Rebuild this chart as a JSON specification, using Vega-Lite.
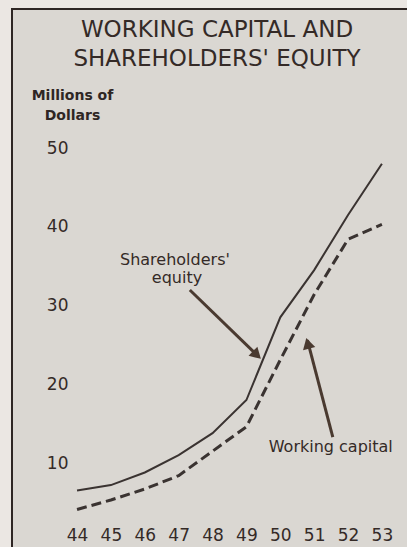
{
  "$schema": "https://vega.github.io/schema/vega-lite/v6.json",
  "width": 396,
  "height": 539,
  "autosize": {"type": "none"},
  "padding": {"left": 12, "top": 9, "right": 0, "bottom": 0},
  "background": "#ebe7e3",
  "config": {
    "view": {"fill": "#dad7d2", "stroke": "#2e2624", "strokeWidth": 2},
    "font": "DejaVu Sans"
  },
  "title": {
    "text": ["WORKING CAPITAL AND", "SHAREHOLDERS' EQUITY"],
    "fontSize": 23,
    "fontWeight": "normal",
    "color": "#342a27",
    "anchor": "middle",
    "frame": "group",
    "baseline": "top",
    "offset": -62,
    "lineHeight": 29.5,
    "dx": 7
  },
  "datasets": {
    "series": [
      {"year": 44, "series": "Shareholders' equity", "value": 6.5},
      {"year": 45, "series": "Shareholders' equity", "value": 7.2},
      {"year": 46, "series": "Shareholders' equity", "value": 8.8},
      {"year": 47, "series": "Shareholders' equity", "value": 11.0},
      {"year": 48, "series": "Shareholders' equity", "value": 13.8},
      {"year": 49, "series": "Shareholders' equity", "value": 18.0},
      {"year": 50, "series": "Shareholders' equity", "value": 28.5},
      {"year": 51, "series": "Shareholders' equity", "value": 34.5},
      {"year": 52, "series": "Shareholders' equity", "value": 41.5},
      {"year": 53, "series": "Shareholders' equity", "value": 48.0},
      {"year": 44, "series": "Working capital", "value": 4.1},
      {"year": 45, "series": "Working capital", "value": 5.3},
      {"year": 46, "series": "Working capital", "value": 6.7},
      {"year": 47, "series": "Working capital", "value": 8.4},
      {"year": 48, "series": "Working capital", "value": 11.5},
      {"year": 49, "series": "Working capital", "value": 14.6},
      {"year": 50, "series": "Working capital", "value": 23.1},
      {"year": 51, "series": "Working capital", "value": 31.4},
      {"year": 52, "series": "Working capital", "value": 38.4},
      {"year": 53, "series": "Working capital", "value": 40.3}
    ],
    "arrows": [
      {"name": "equity", "year": 47.33, "value": 31.97, "year2": 49.36, "value2": 23.5},
      {"name": "working", "year": 51.55, "value": 13.3, "year2": 50.8, "value2": 25.6}
    ],
    "heads": [
      {"name": "equity", "year": 49.31, "value": 23.71},
      {"name": "working", "year": 50.81, "value": 25.21}
    ],
    "labels": [
      {"text": "Shareholders'", "year": 46.89, "value": 35.14},
      {"text": "equity", "year": 46.95, "value": 32.86},
      {"text": "Working  capital", "year": 51.49, "value": 11.4}
    ]
  },
  "encoding": {
    "x": {
      "field": "year",
      "type": "quantitative",
      "scale": {"domain": [42.08, 53.77], "nice": false, "zero": false},
      "axis": {
        "values": [44, 45, 46, 47, 48, 49, 50, 51, 52, 53],
        "format": "d",
        "grid": false,
        "domain": false,
        "ticks": false,
        "offset": -8,
        "labelPadding": 0,
        "labelBaseline": "alphabetic",
        "labelFontSize": 17,
        "labelColor": "#342a27",
        "labelOverlap": false,
        "labelFlush": false,
        "title": null
      }
    },
    "y": {
      "field": "value",
      "type": "quantitative",
      "scale": {"domain": [-0.79, 67.65], "nice": false, "zero": false},
      "axis": {
        "values": [10, 20, 30, 40, 50],
        "grid": false,
        "domain": false,
        "ticks": false,
        "offset": -56,
        "labelPadding": 0,
        "labelFontSize": 17,
        "labelColor": "#342a27",
        "labelOverlap": false,
        "title": ["Millions of", "Dollars"],
        "titleAngle": 0,
        "titleAlign": "center",
        "titleBaseline": "alphabetic",
        "titleX": 4,
        "titleY": 90,
        "titleFontSize": 14,
        "titleFontWeight": "bold",
        "titleLineHeight": 20,
        "titleColor": "#2e2624"
      }
    }
  },
  "layer": [
    {
      "data": {"name": "series"},
      "transform": [{"filter": "datum.series === 'Shareholders\\' equity'"}],
      "mark": {"type": "line", "color": "#3a3331", "strokeWidth": 2},
      "encoding": {}
    },
    {
      "data": {"name": "series"},
      "transform": [{"filter": "datum.series === 'Working capital'"}],
      "mark": {"type": "line", "color": "#3a3331", "strokeWidth": 3, "strokeDash": [10, 5]},
      "encoding": {}
    },
    {
      "data": {"name": "arrows"},
      "mark": {"type": "rule", "color": "#4a3a30", "strokeWidth": 3},
      "encoding": {
        "x2": {"field": "year2"},
        "y2": {"field": "value2"}
      }
    },
    {
      "data": {"name": "heads"},
      "transform": [{"filter": "datum.name === 'equity'"}],
      "mark": {"type": "point", "shape": "triangle-up", "filled": true, "color": "#4a3a30", "opacity": 1, "size": 160, "angle": 134},
      "encoding": {}
    },
    {
      "data": {"name": "heads"},
      "transform": [{"filter": "datum.name === 'working'"}],
      "mark": {"type": "point", "shape": "triangle-up", "filled": true, "color": "#4a3a30", "opacity": 1, "size": 160, "angle": 345},
      "encoding": {}
    },
    {
      "data": {"name": "labels"},
      "mark": {"type": "text", "fontSize": 16, "color": "#342a27", "baseline": "alphabetic", "align": "center"},
      "encoding": {"text": {"field": "text"}}
    }
  ]
}
